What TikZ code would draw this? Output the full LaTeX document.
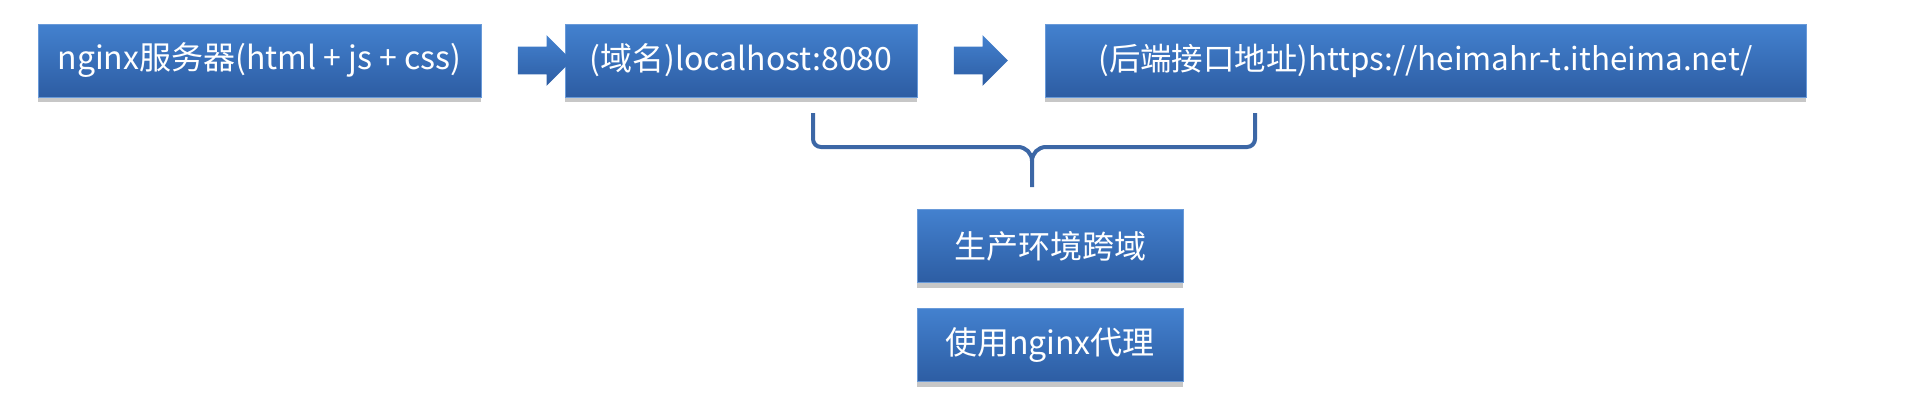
\documentclass[tikz,border=0pt]{standalone}
\usepackage{fontspec}
\setmainfont{Noto Sans CJK SC}
\usetikzlibrary{shapes.arrows,shadows}
\definecolor{boxtop}{HTML}{4381CF}
\definecolor{boxbot}{HTML}{2D5DA3}
\definecolor{bracecol}{HTML}{3C67A6}
\tikzset{
	bluebox/.style={rectangle, top color=boxtop, bottom color=boxbot, draw=boxtop!80!white, line width=0.4pt,
		text=white, inner sep=0pt, minimum height=36.5pt, font=\fontsize{16pt}{18pt}\selectfont,
		drop shadow={shadow xshift=0pt, shadow yshift=-2.5pt, fill=black, opacity=.22}},
	lowbox/.style={bluebox, minimum width=133pt},
	blockarrow/.style={single arrow, top color=boxtop, bottom color=boxbot, draw=none,
		inner xsep=0pt, inner ysep=6.75pt, single arrow head extend=5.75pt,
		single arrow tip angle=90, minimum height=27pt}
}
\begin{document}
\begin{tikzpicture}[x=0.5pt, y=-0.5pt]
	\useasboundingbox (0, 0) rectangle (1906, 403);
	\node[bluebox, minimum width=221.5pt] (server) at (259.5, 60.5) {nginx服务器(html + js + css)};
	\node[bluebox, minimum width=176pt] (local) at (741, 60.5) {(域名)localhost:8080};
	\node[bluebox, minimum width=380.5pt, font=\fontsize{15.7pt}{18pt}\selectfont] (backend) at (1425.5, 60.5) {(后端接口地址)https://heimahr-t.itheima.net/};
	\node[lowbox] (prod) at (1050, 246) {生产环境跨域};
	\node[lowbox] (proxy) at (1050, 345) {使用nginx代理};
	\node[blockarrow] (a1) at (538, 60.5) {};
	\node[blockarrow] (a2) at (974, 60.5) {};
	% brace under the two addresses
	\coordinate (bl) at (813, 113);
	\coordinate (br) at (1255, 113);
	\coordinate (bm) at (1032, 187);
	\draw[bracecol, line width=2pt] (bl) -- (813, 139) to[out=-90, in=180] (821, 147) -- (1018, 147)
		to[out=0, in=90] (1032, 161) -- (bm);
	\draw[bracecol, line width=2pt] (br) -- (1255, 139) to[out=-90, in=0] (1247, 147) -- (1046, 147)
		to[out=180, in=90] (1032, 161);
\end{tikzpicture}
\end{document}
